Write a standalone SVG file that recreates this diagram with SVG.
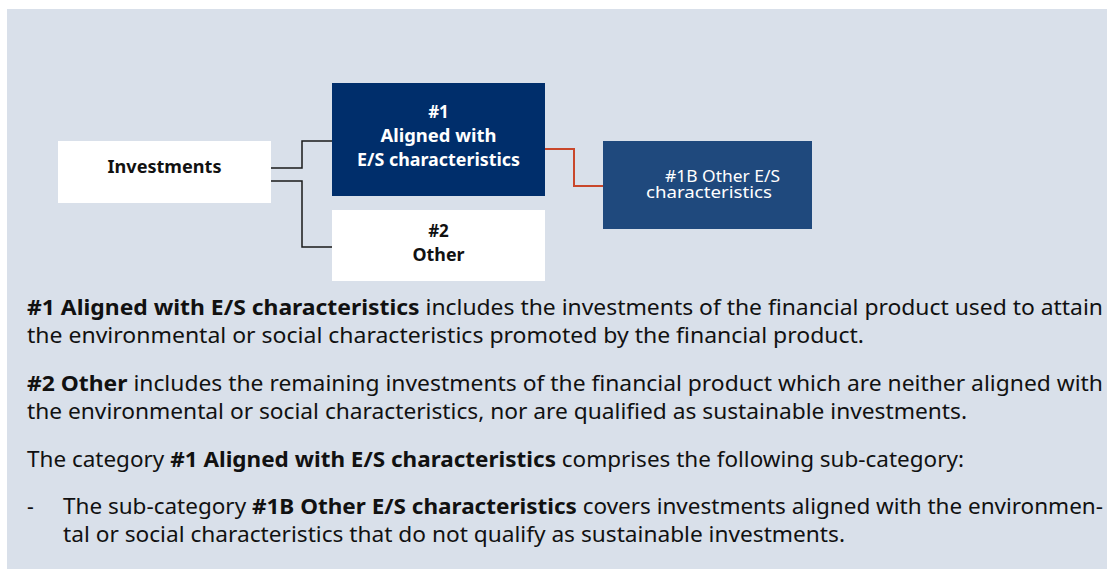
<svg xmlns="http://www.w3.org/2000/svg" width="1107" height="573" viewBox="0 0 1107 573">
<style>
.lbl{font-family:"Noto Sans","Open Sans","DejaVu Sans",sans-serif;font-size:17px;text-anchor:middle;font-weight:bold}
.dk{fill:#111}
.wt{fill:#fff}
.sub{font-family:"Noto Sans","Open Sans","DejaVu Sans",sans-serif;font-size:16.5px;fill:#fff}
.body{font-family:"Noto Sans","Open Sans","DejaVu Sans",sans-serif;font-size:21px;fill:#111}
.b{font-weight:bold}
.con{fill:none;stroke:#1a1a1a;stroke-width:1.5}
.con2{fill:none;stroke:#c9472b;stroke-width:2}
</style>
<rect x="0" y="0" width="1107" height="573" fill="#fff"/>
<rect x="7" y="9" width="1100" height="560" fill="#d9e0ea"/>
<g id="connectors">
<path class="con" d="M271,168 H302 V141 H332"/>
<path class="con" d="M271,181 H302 V247 H332"/>
<path class="con2" d="M545,149 H574 V186 H603"/>
</g>
<g id="investments">
<rect x="58" y="141" width="213" height="62" fill="#fff"/>
<text class="lbl dk" x="164.5" y="173" textLength="114" lengthAdjust="spacingAndGlyphs">Investments</text>
</g>
<g id="aligned">
<rect x="332" y="83" width="213" height="113" fill="#002e6b"/>
<text class="lbl wt" x="438.5" y="118">#1</text>
<text class="lbl wt" x="438.5" y="142" textLength="116" lengthAdjust="spacingAndGlyphs">Aligned with</text>
<text class="lbl wt" x="438.5" y="166" textLength="163" lengthAdjust="spacingAndGlyphs">E/S characteristics</text>
</g>
<g id="other">
<rect x="332" y="210" width="213" height="71" fill="#fff"/>
<text class="lbl dk" x="438.5" y="237">#2</text>
<text class="lbl dk" x="438.5" y="261" textLength="52" lengthAdjust="spacingAndGlyphs">Other</text>
</g>
<g id="other-es">
<rect x="603" y="141" width="209" height="88" fill="#1f497d"/>
<text class="sub" x="665" y="182" textLength="115" lengthAdjust="spacingAndGlyphs">#1B Other E/S</text>
<text class="sub" x="646" y="198" textLength="126" lengthAdjust="spacingAndGlyphs">characteristics</text>
</g>
<g id="text">
<text class="body" x="27" y="315" textLength="1076" lengthAdjust="spacingAndGlyphs"><tspan class="b">#1 Aligned with E/S characteristics</tspan> includes the investments of the financial product used to attain</text>
<text class="body" x="27" y="343" textLength="837" lengthAdjust="spacingAndGlyphs">the environmental or social characteristics promoted by the financial product.</text>
<text class="body" x="27" y="391" textLength="1076" lengthAdjust="spacingAndGlyphs"><tspan class="b">#2 Other</tspan> includes the remaining investments of the financial product which are neither aligned with</text>
<text class="body" x="27" y="419" textLength="940" lengthAdjust="spacingAndGlyphs">the environmental or social characteristics, nor are qualified as sustainable investments.</text>
<text class="body" x="27" y="467" textLength="937" lengthAdjust="spacingAndGlyphs">The category <tspan class="b">#1 Aligned with E/S characteristics</tspan> comprises the following sub-category:</text>
<text class="body" x="27" y="514">-</text>
<text class="body" x="63" y="514" textLength="1040" lengthAdjust="spacingAndGlyphs">The sub-category <tspan class="b">#1B Other E/S characteristics</tspan> covers investments aligned with the environmen-</text>
<text class="body" x="63" y="542" textLength="782" lengthAdjust="spacingAndGlyphs">tal or social characteristics that do not qualify as sustainable investments.</text>
</g>
</svg>
